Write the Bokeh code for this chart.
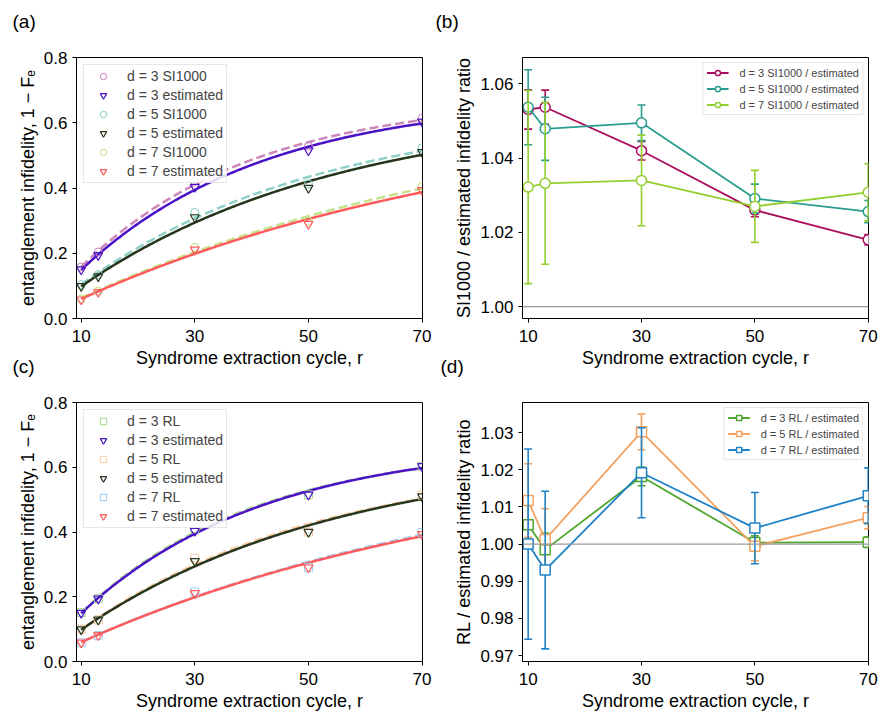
import numpy as np
from bokeh.plotting import figure
from bokeh.models import Legend, LegendItem, Label, Span, FixedTicker, PrintfTickFormatter
from bokeh.layouts import column, row
from bokeh.embed import file_html
from bokeh.resources import INLINE

# ---------------- data ----------------
r = [10, 13, 30, 50, 70]
xticks = [10, 30, 50, 70]

est_d3 = [0.150, 0.194, 0.403, 0.515, 0.603]
est_d5 = [0.099, 0.129, 0.310, 0.400, 0.510]
est_d7 = [0.058, 0.081, 0.211, 0.290, 0.393]
si_d3 = [0.158, 0.204, 0.420, 0.528, 0.614]
si_d5 = [0.104, 0.135, 0.325, 0.412, 0.523]
si_d7 = [0.060, 0.084, 0.218, 0.298, 0.405]
rl_d3 = [0.151, 0.194, 0.410, 0.515, 0.603]
rl_d5 = [0.100, 0.129, 0.319, 0.400, 0.514]
rl_d7 = [0.058, 0.080, 0.215, 0.291, 0.398]

si_ratio_d3 = [1.0531, 1.0537, 1.0420, 1.0260, 1.0180]
si_err_d3 = [0.0053, 0.0046, 0.0025, 0.0018, 0.0014]
si_ratio_d5 = [1.0537, 1.0479, 1.0495, 1.0291, 1.0256]
si_err_d5 = [0.0101, 0.0085, 0.0048, 0.0039, 0.0030]
si_ratio_d7 = [1.0322, 1.0332, 1.0340, 1.0270, 1.0308]
si_err_d7 = [0.0260, 0.0218, 0.0122, 0.0097, 0.0077]

rl_ratio_d3 = [1.0052, 0.9985, 1.0182, 1.0004, 1.0005]
rl_err_d3 = [0.0052, 0.0045, 0.0025, 0.0018, 0.0014]
rl_ratio_d5 = [1.0117, 1.0012, 1.0302, 0.9994, 1.0071]
rl_err_d5 = [0.0099, 0.0083, 0.0048, 0.0039, 0.0030]
rl_ratio_d7 = [1.0000, 0.9930, 1.0192, 1.0043, 1.0130]
rl_err_d7 = [0.0256, 0.0212, 0.0121, 0.0096, 0.0075]

panel_tags = ["(a)", "(b)", "(c)", "(d)"]

FONT = "Liberation Sans"
XLABEL = "Syndrome extraction cycle, r"
YLABEL_INF = "entanglement infidelity, 1 − Fₑ"


def fit_curve(y):
    """least-squares fit of A*(1-exp(-(r-r0)/tau)) to the points"""
    x = np.asarray(r, float)
    y = np.asarray(y, float)
    taus = np.geomspace(5, 5000, 500)[:, None, None]
    r0s = np.linspace(-20, 9.5, 119)[None, :, None]
    g = 1 - np.exp(-(x[None, None, :] - r0s) / taus)
    A = (g * y).sum(-1) / (g * g).sum(-1)
    sse = ((A[..., None] * g - y) ** 2).sum(-1)
    i, j = np.unravel_index(np.argmin(sse), sse.shape)
    xs = np.linspace(10, 70, 200)
    ys = A[i, j] * (1 - np.exp(-(xs - r0s[0, j, 0]) / taus[i, 0, 0]))
    return xs, ys


def make_fig(w, h, xr, yr, left, right, top, bottom, ylabel):
    p = figure(width=w, height=h, x_range=xr, y_range=yr, output_backend="svg",
               toolbar_location=None, min_border_left=left, min_border_right=right,
               min_border_top=top, min_border_bottom=bottom)
    p.grid.visible = False
    p.outline_line_color = "black"
    p.outline_line_width = 1
    p.background_fill_color = "white"
    p.border_fill_color = "white"
    for ax in (p.xaxis[0], p.yaxis[0]):
        ax.major_tick_in = 0
        ax.major_tick_out = 4
        ax.minor_tick_line_color = None
        ax.axis_line_color = "black"
        ax.major_tick_line_color = "black"
        ax.major_label_text_font = FONT
        ax.major_label_text_font_size = "17px"
        ax.major_label_text_color = "black"
        ax.major_label_standoff = 5
        ax.axis_label_text_font = FONT
        ax.axis_label_text_font_size = "18px"
        ax.axis_label_text_font_style = "normal"
        ax.axis_label_text_color = "black"
        ax.axis_label_standoff = 3
    p.xaxis[0].major_label_standoff = 7
    p.xaxis[0].ticker = FixedTicker(ticks=xticks)
    p.xaxis[0].axis_label = XLABEL
    p.yaxis[0].axis_label = ylabel
    return p


# geometry
WA, HA = 434, 376
WB = 880 - WA
HC = 713 - HA
FW, FH = 346, 261
XR_A = (9.17, 70.08)
XR_B = (9.0, 70.05)
YR_A = (0.0, 0.8)
YR_B = (0.9968, 1.0671)
YR_D = (0.9684, 1.0381)


# ---------------- panel (a) & (c) ----------------
def infid_panel(w, h, top, bottom, others, other_name, other_colors, other_marker, line_colors,
                dashed_colors):
    p = make_fig(w, h, XR_A, YR_A, 76, w - 76 - FW, top, bottom, YLABEL_INF)
    p.yaxis[0].ticker = FixedTicker(ticks=[0.0, 0.2, 0.4, 0.6, 0.8])
    p.yaxis[0].formatter = PrintfTickFormatter(format="%.1f")
    items = []
    ests = [est_d3, est_d5, est_d7]
    for k, d in enumerate([3, 5, 7]):
        xs, ys = fit_curve(others[k])
        p.line(xs, ys, line_color=dashed_colors[k], line_width=2.5, line_dash="9 4")
        xs2, ys2 = fit_curve(ests[k])
        p.line(xs2, ys2, line_color=line_colors[k], line_width=2.5)
        s1 = p.scatter(r, others[k], marker=other_marker, size=8, fill_color=None,
                       line_color=other_colors[k], line_width=1)
        s2 = p.scatter(r, ests[k], marker="inverted_triangle", size=9, fill_color=None,
                       line_color=line_colors[k], line_width=1.2)
        items.append(LegendItem(label=f"d = {d} {other_name}", renderers=[s1]))
        items.append(LegendItem(label=f"d = {d} estimated", renderers=[s2]))
    leg = Legend(items=items, location="top_left", margin=7, padding=3, spacing=3,
                 label_height=16, glyph_height=16, glyph_width=32, label_standoff=8,
                 label_text_font=FONT, label_text_font_size="14px",
                 border_line_color="#d0d0d0", border_line_width=1,
                 background_fill_alpha=0.85)
    p.add_layout(leg)
    return p


est_colors = ["#4b12c6", "#26361d", "#ff5a5c"]
pa = infid_panel(WA, HA, 57, HA - 57 - FH, [si_d3, si_d5, si_d7], "SI1000",
                 ["#cc80bb", "#7fcfc5", "#bde27e"], "circle", est_colors,
                 ["#cc88bb", "#8fd1c9", "#c5e38a"])
pc = infid_panel(WA, HC, 26, HC - 26 - FH, [rl_d3, rl_d5, rl_d7], "RL",
                 ["#9fd68a", "#f9c9a2", "#99c9ee"], "square", est_colors,
                 ["#a8da90", "#f9cca6", "#a0ccef"])


# ---------------- panel (b) & (d) ----------------
def ratio_panel(h, top, bottom, yr, ylabel, ratios, errs, colors, marker, name, yticks):
    p = make_fig(WB, h, XR_B, yr, 88, WB - 88 - FW, top, bottom, ylabel)
    p.yaxis[0].ticker = FixedTicker(ticks=yticks)
    p.yaxis[0].formatter = PrintfTickFormatter(format="%.2f")
    p.add_layout(Span(location=1.0, dimension="width", line_color="#999999", line_width=1.2))
    items = []
    for k, d in enumerate([3, 5, 7]):
        y = np.asarray(ratios[k])
        e = np.asarray(errs[k])
        c = colors[k]
        ln = p.line(r, ratios[k], line_color=c, line_width=1.8)
        sg = p.segment(r, y - e, r, y + e, line_color=c, line_width=1.6)
        cp = p.scatter(r + r, list(y - e) + list(y + e), marker="dash", size=8,
                       line_color=c, line_width=1.6)
        sc = p.scatter(r, ratios[k], marker=marker, size=10, fill_color="white",
                       line_color=c, line_width=1.5)
        items.append(LegendItem(label=f"d = {d} {name} / estimated",
                                renderers=[ln, sg, cp, sc]))
    leg = Legend(items=items, location="top_right", margin=5, padding=3, spacing=3,
                 label_height=13, glyph_height=13, glyph_width=22, label_standoff=11,
                 label_text_font=FONT, label_text_font_size="11px",
                 border_line_color="#d0d0d0", border_line_width=1,
                 background_fill_alpha=0.85)
    p.add_layout(leg)
    return p


pb = ratio_panel(HA, 57, HA - 57 - FH, YR_B, "SI1000 / estimated infidelity ratio",
                 [si_ratio_d3, si_ratio_d5, si_ratio_d7], [si_err_d3, si_err_d5, si_err_d7],
                 ["#ab0f5f", "#2a9d8f", "#92cf2f"], "circle", "SI1000",
                 [1.00, 1.02, 1.04, 1.06])
pd_ = ratio_panel(HC, 26, HC - 26 - FH, YR_D, "RL / estimated infidelity ratio",
                  [rl_ratio_d3, rl_ratio_d5, rl_ratio_d7], [rl_err_d3, rl_err_d5, rl_err_d7],
                  ["#4ea72e", "#f4a261", "#1f82c8"], "square", "RL",
                  [0.97, 0.98, 0.99, 1.00, 1.01, 1.02, 1.03])

# ---------------- transparent overlay carrying the panel tags ----------------
ov = figure(width=880, height=713, x_range=(0, 880), y_range=(713, 0),
            output_backend="svg", toolbar_location=None, x_axis_location=None,
            y_axis_location=None, min_border=0, outline_line_color=None,
            styles={"margin-top": "-713px", "pointer-events": "none"})
ov.grid.visible = False
ov.background_fill_alpha = 0
ov.border_fill_alpha = 0
tag_pos = [(12, 21), (435, 21), (12, 366), (440, 366)]
for t, (tx, ty) in zip(panel_tags, tag_pos):
    ov.add_layout(Label(x=tx, y=ty, text=t, text_font=FONT, text_font_size="19px",
                        text_align="left", text_baseline="middle", text_color="black"))

layout = column(row(pa, pb), row(pc, pd_), ov)
open("out.html", "w").write(file_html(layout, INLINE))
